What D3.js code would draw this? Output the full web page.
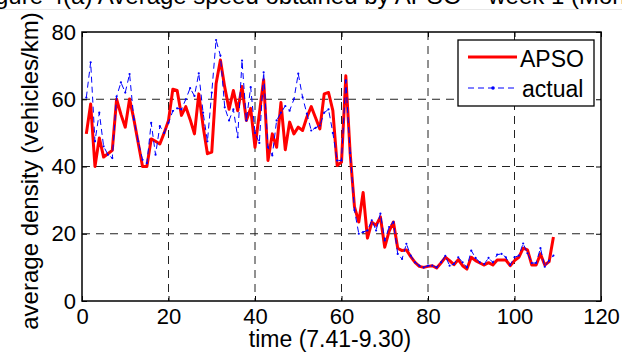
<!DOCTYPE html>
<html>
<head>
<meta charset="utf-8">
<script src="https://cdn.jsdelivr.net/npm/d3@7"></script>
<style>
  html, body { margin: 0; padding: 0; background: #fff; }
  text { font-family: "Liberation Sans", Arial, sans-serif; fill: #000; }
</style>
</head>
<body>
<svg id="densityChart"></svg>
<script>
// minutes after 7:41
const minutes = [
  1, 2, 3, 4, 5, 6, 7, 8, 9, 10, 11, 12, 13, 14, 15, 16, 17, 18, 19, 20,
  21, 22, 23, 24, 25, 26, 27, 28, 29, 30, 31, 32, 33, 34, 35, 36, 37, 38, 39, 40,
  41, 42, 43, 44, 45, 46, 47, 48, 49, 50, 51, 52, 53, 54, 55, 56, 57, 58, 59, 60,
  61, 62, 63, 64, 65, 66, 67, 68, 69, 70, 71, 72, 73, 74, 75, 76, 77, 78, 79, 80,
  81, 82, 83, 84, 85, 86, 87, 88, 89, 90, 91, 92, 93, 94, 95, 96, 97, 98, 99, 100,
  101, 102, 103, 104, 105, 106, 107, 108, 109
];

const apso = [
  49.7, 58.6, 40, 48.5, 42.8, 43.8, 44.8, 60, 55.5, 51.7,
  60.1, 54, 47, 40, 40, 48.2, 47.5, 46.7, 50, 53.7,
  63, 62.6, 55.2, 57.8, 54, 49.7, 61.6, 52, 43.8, 44.3,
  64.6, 71.7, 63.6, 57, 62.6, 56.6, 63.8, 53.7, 57.3, 45.7,
  55.7, 65.8, 41.8, 49.7, 45.7, 59, 45, 53.2, 49.7, 51.7,
  50.7, 54.7, 57.8, 54.5, 51.2, 61.6, 62, 56.6, 40.3, 41.3,
  67, 44, 28, 23.5, 32.3, 18.7, 23.4, 22.5, 25, 16,
  20.7, 23.5, 15.7, 15, 15.2, 13.2, 11.5, 10.3, 10, 10.3,
  10.5, 9.8, 11.3, 13, 12, 10.8, 12.3, 10.5, 9.5, 13,
  12, 11.3, 10.7, 11.4, 10.7, 12.2, 12.2, 12.2, 10.5, 12,
  13, 15.7, 15.2, 10.7, 10.7, 14, 10.7, 11.7, 19
];

const actual = [
  60.5, 71, 47.5, 56, 46, 43.5, 42.5, 60.8, 65, 62,
  67.5, 54, 47.5, 42, 41, 53, 43.5, 52, 50, 53,
  56.5, 57.3, 57, 60, 63.3, 61, 67.7, 56, 47.5, 62,
  77.6, 73, 57.6, 53.7, 57, 48.7, 71.5, 53.7, 63.6, 50,
  47, 68, 45.7, 43.3, 53.7, 56, 58, 56.6, 60, 67.6,
  60.6, 55.7, 50.7, 51.5, 52.2, 56, 57, 50, 41.8, 41.8,
  65.6, 44, 27, 20, 20.5, 21, 24, 21, 26, 18,
  22, 23.5, 14, 12.5, 17, 13.5, 11.5, 10.5, 10, 10.5,
  10.5, 10, 11.5, 13.4, 10.5, 11, 13, 11.5, 10, 15,
  12.8, 11.5, 11, 12.8, 11.5, 13.8, 14, 13, 10.7, 13,
  13.5, 17.1, 14.2, 11.3, 11.3, 15.7, 10.2, 12, 13.5
];

const xTicks = [0, 20, 40, 60, 80, 100, 120];
const yTicks = [0, 20, 40, 60, 80];
const seriesNames = ['APSO', 'actual'];

const svgWidth = 622;
const svgHeight = 352;
const margin = { top: 32, right: 21, bottom: 51, left: 82 };
const width = svgWidth - margin.left - margin.right;
const height = svgHeight - margin.top - margin.bottom;

const svgRoot = d3.select('#densityChart')
  .attr('width', svgWidth)
  .attr('height', svgHeight);

// caption of the page above, cut off by the crop
svgRoot.append('text')
  .attr('x', -5)
  .attr('y', 4)
  .style('font-size', '24px')
  .text('gure 4(a) Average speed obtained by APSO \u2013 week 1 (Monday)');
svgRoot.append('line')
  .attr('x1', 0).attr('x2', svgWidth)
  .attr('y1', 9.5).attr('y2', 9.5)
  .attr('stroke', '#e8e8e8');

const svg = svgRoot.append('g')
  .attr('transform', `translate(${margin.left}, ${margin.top})`);

const xScale = d3.scaleLinear()
  .domain([0, 120])
  .range([0, width]);
const yScale = d3.scaleLinear()
  .domain([0, 80])
  .range([height, 0]);

// grid
svg.append('g')
  .selectAll('line')
  .data(xTicks.slice(1, -1))
  .enter()
  .append('line')
    .attr('x1', d => xScale(d))
    .attr('x2', d => xScale(d))
    .attr('y1', 0)
    .attr('y2', height)
    .attr('stroke', '#222')
    .attr('stroke-dasharray', '8,6');
svg.append('g')
  .selectAll('line')
  .data(yTicks.slice(1, -1))
  .enter()
  .append('line')
    .attr('x1', 0)
    .attr('x2', width)
    .attr('y1', d => yScale(d))
    .attr('y2', d => yScale(d))
    .attr('stroke', '#222')
    .attr('stroke-dasharray', '8,6');

// axes, ticks inside on all four sides
const tickLen = 5;
svg.append('g')
  .attr('transform', `translate(0, ${height})`)
  .call(d3.axisBottom(xScale).tickValues(xTicks).tickSize(-tickLen).tickPadding(tickLen + 2))
  .call(g => g.select('.domain').remove())
  .selectAll('text')
    .style('font-size', '22px');
svg.append('g')
  .call(d3.axisTop(xScale).tickValues(xTicks).tickSize(-tickLen).tickFormat(''))
  .call(g => g.select('.domain').remove());
svg.append('g')
  .call(d3.axisLeft(yScale).tickValues(yTicks).tickSize(-tickLen).tickPadding(tickLen + 1))
  .call(g => g.select('.domain').remove())
  .selectAll('text')
    .style('font-size', '22px');
svg.append('g')
  .attr('transform', `translate(${width}, 0)`)
  .call(d3.axisRight(yScale).tickValues(yTicks).tickSize(-tickLen).tickFormat(''))
  .call(g => g.select('.domain').remove());

svg.selectAll('.tick line').attr('stroke', '#000');

// series
const line = d3.line()
  .x((d, i) => xScale(minutes[i]))
  .y(d => yScale(d));

svg.append('path')
  .datum(apso)
  .attr('fill', 'none')
  .attr('stroke', '#ff0000')
  .attr('stroke-width', 3)
  .attr('stroke-linejoin', 'round')
  .attr('d', line);

svg.append('path')
  .datum(actual)
  .attr('fill', 'none')
  .attr('stroke', '#0000ff')
  .attr('stroke-width', 1)
  .attr('stroke-dasharray', '6,4')
  .attr('d', line);

svg.append('g')
  .selectAll('circle')
  .data(actual)
  .enter()
  .append('circle')
    .attr('cx', (d, i) => xScale(minutes[i]))
    .attr('cy', d => yScale(d))
    .attr('r', 1.1)
    .attr('fill', '#0000ff');

// frame
svg.append('rect')
  .attr('width', width)
  .attr('height', height)
  .attr('fill', 'none')
  .attr('stroke', '#000')
  .attr('stroke-width', 1.5);

// legend
const legend = svg.append('g')
  .attr('transform', `translate(${458 - margin.left}, ${40 - margin.top})`);
legend.append('rect')
  .attr('width', 136)
  .attr('height', 66)
  .attr('fill', '#fff')
  .attr('stroke', '#000')
  .attr('stroke-width', 1.3);
legend.append('line')
  .attr('x1', 10).attr('x2', 59)
  .attr('y1', 17).attr('y2', 17)
  .attr('stroke', '#ff0000')
  .attr('stroke-width', 3);
legend.append('line')
  .attr('x1', 10).attr('x2', 59)
  .attr('y1', 48).attr('y2', 48)
  .attr('stroke', '#0000ff')
  .attr('stroke-dasharray', '6,4');
legend.append('circle')
  .attr('cx', 35).attr('cy', 48).attr('r', 1.8)
  .attr('fill', '#0000ff');
legend.selectAll('.label')
  .data(seriesNames)
  .enter()
  .append('text')
    .attr('class', 'label')
    .attr('x', (d, i) => i === 0 ? 62 : 64)
    .attr('y', (d, i) => i === 0 ? 26.5 : 56.5)
    .style('font-size', '23px')
    .text(d => d);

// axis titles
svgRoot.append('text')
  .attr('x', 330)
  .attr('y', 347)
  .attr('text-anchor', 'middle')
  .style('font-size', '23px')
  .text('time (7.41-9.30)');

svgRoot.append('text')
  .attr('transform', 'translate(38, 171) rotate(-90)')
  .attr('text-anchor', 'middle')
  .style('font-size', '24px')
  .text('average density (vehicles/km)');
</script>
</body>
</html>
